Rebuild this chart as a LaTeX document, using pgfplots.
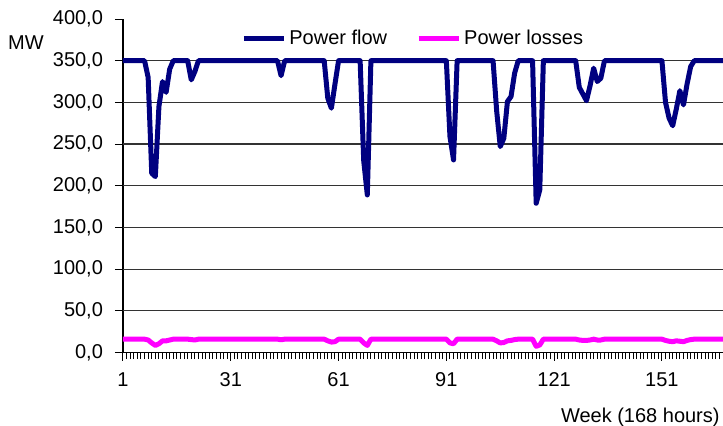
\documentclass[border=0pt]{standalone}
\usepackage{fontspec}
\setmainfont{Liberation Sans}
\usepackage{pgfplots}
\usepackage{pgfplotstable}
\pgfplotsset{compat=1.18}
\definecolor{flowc}{RGB}{0,0,128}
\definecolor{lossc}{RGB}{255,0,255}
\pgfplotstableread{
k f l
1 350 16
2 350 16
3 350 16
4 350 16
5 350 16
6 350 16
7 350 16
8 330 15
9 215 11.5
10 211 8.5
11 295 10.5
12 325 14
13 312 14
14 340 15
15 350 16
16 350 16
17 350 16
18 350 16
19 350 16
20 327 15.5
21 337 15
22 350 16
23 350 16
24 350 16
25 350 16
26 350 16
27 350 16
28 350 16
29 350 16
30 350 16
31 350 16
32 350 16
33 350 16
34 350 16
35 350 16
36 350 16
37 350 16
38 350 16
39 350 16
40 350 16
41 350 16
42 350 16
43 350 16
44 350 16
45 332 15.3
46 350 16
47 350 16
48 350 16
49 350 16
50 350 16
51 350 16
52 350 16
53 350 16
54 350 16
55 350 16
56 350 16
57 350 16
58 305 14
59 293 12.5
60 322 13
61 350 16
62 350 16
63 350 16
64 350 16
65 350 16
66 350 16
67 350 16
68 230 11.5
69 189 8.5
70 350 16
71 350 16
72 350 16
73 350 16
74 350 16
75 350 16
76 350 16
77 350 16
78 350 16
79 350 16
80 350 16
81 350 16
82 350 16
83 350 16
84 350 16
85 350 16
86 350 16
87 350 16
88 350 16
89 350 16
90 350 16
91 350 16
92 259 11.5
93 231 10.5
94 350 16
95 350 16
96 350 16
97 350 16
98 350 16
99 350 16
100 350 16
101 350 16
102 350 16
103 350 16
104 350 16
105 290 14
106 247 11.5
107 257 12
108 301 14
109 307 14.5
110 335 15.5
111 350 16
112 350 16
113 350 16
114 350 16
115 350 16
116 179 7.5
117 195 9
118 350 16
119 350 16
120 350 16
121 350 16
122 350 16
123 350 16
124 350 16
125 350 16
126 350 16
127 350 16
128 318 15
129 310 14.5
130 302 14.5
131 320 15
132 341 16
133 325 15
134 329 15
135 350 16
136 350 16
137 350 16
138 350 16
139 350 16
140 350 16
141 350 16
142 350 16
143 350 16
144 350 16
145 350 16
146 350 16
147 350 16
148 350 16
149 350 16
150 350 16
151 350 16
152 300 14.5
153 281 13.5
154 272 13
155 292 14
156 314 13.5
157 297 13
158 322 14.5
159 343 15.5
160 350 16
161 350 16
162 350 16
163 350 16
164 350 16
165 350 16
166 350 16
167 350 16
168 350 16
}\data
\begin{document}
\begin{tikzpicture}[font=\fontsize{10}{12}\selectfont]
\begin{axis}[
  name=ax,
  scale only axis, width=300pt, height=166.75pt,
  xmin=1, xmax=168, ymin=0, ymax=400,
  axis x line*=bottom, axis y line*=left,
  axis line style={black, line width=0.6pt},
  tick align=outside,
  xtick={1,31,61,91,121,151},
  minor xtick={1,...,168},
  ytick={0,50,...,400},
  major tick length=4pt, minor tick length=3.3pt,
  tick style={black, line width=0.5pt},
  extra y ticks={50,100,...,350},
  extra y tick labels={},
  extra y tick style={grid=major, tick style={draw=none}},
  grid style={black!80, line width=0.6pt},
  /pgf/number format/assume math mode=true,
  yticklabel style={xshift=-2.5pt, /pgf/number format/.cd, fixed, fixed zerofill, precision=1, use comma},
  xticklabel style={yshift=-2.5pt},
  legend style={draw=none, fill=none, at={(0.1866,0.942)}, anchor=west,
    legend columns=2, font=\fontsize{10}{12}\selectfont,
    /tikz/every even column/.append style={column sep=12.5pt},
    /tikz/every odd column/.append style={column sep=-0.5pt}},
  legend image code/.code={\draw[#1] (0pt,0pt) -- (20pt,0pt);},
]
\addplot[flowc, line width=2.5pt, line join=round] table[x=k, y=f]{\data};
\addlegendentry{Power flow}
\addplot[lossc, line width=2.5pt, line join=round] table[x=k, y=l]{\data};
\addlegendentry{Power losses}
\end{axis}
\node at ([xshift=-48.5pt, yshift=-11.75pt]ax.north west) {MW};
\node[anchor=base east, inner sep=0pt] at ([xshift=-1.5pt, yshift=-34.75pt]ax.south east) {Week (168 hours)};
\pgfresetboundingbox
\useasboundingbox ([xshift=-61.5pt, yshift=-36.25pt]ax.south west) rectangle ++(361.5pt,212.5pt);
\end{tikzpicture}
\end{document}
